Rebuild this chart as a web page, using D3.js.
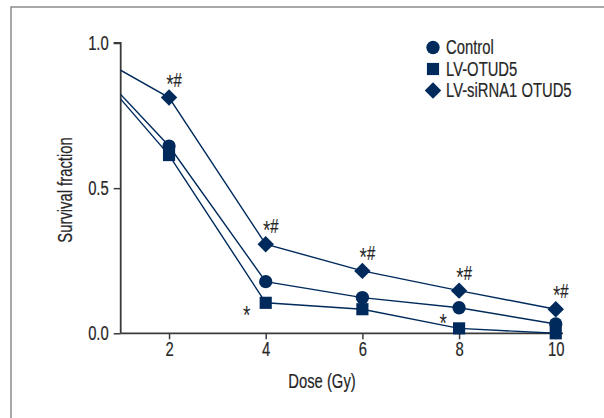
<!DOCTYPE html>
<html><head><meta charset="utf-8">
<script src="https://cdn.jsdelivr.net/npm/d3@7"></script>
<style>
body{margin:0;background:#fff;}
svg text{font-family:"Liberation Sans",Arial,sans-serif;fill:#262626;stroke:#262626;stroke-width:0.2px;}
</style></head>
<body><svg id="c" width="604" height="418"></svg>
<script>
const doses = [0, 2, 4, 6, 8, 10];
const seriesNames = ["Control", "LV-OTUD5", "LV-siRNA1 OTUD5"];
const controlValues = [1.0, 0.645, 0.178, 0.123, 0.088, 0.032];
const lvOtud5Values = [1.0, 0.614, 0.105, 0.083, 0.017, 0.0];
const siRnaValues   = [1.0, 0.812, 0.307, 0.215, 0.147, 0.083];
const xTicks = [2, 4, 6, 8, 10];
const yTicks = [0.0, 0.5, 1.0];
// significance marks: [seriesIndex, dose, label]
const sigMarks = [
  [2, 2, "*#"], [2, 4, "*#"], [2, 6, "*#"], [2, 8, "*#"], [2, 10, "*#"],
  [1, 4, "*"], [1, 8, "*"]
];

const SX = 0.76;           // horizontal condensing of text
const FS = 19.5;           // font size
const AS = 25;             // asterisk font size
const svg = d3.select("#c");
const color = "#002a5c";
const x = d3.scaleLinear().domain([1, 10.15]).range([120.7, 563]);
const y = d3.scaleLinear().domain([0, 1]).range([333.3, 43]);

function txt(g, tx, ty, s, anchor, rot) {
  return g.append("text")
    .attr("transform", `translate(${tx},${ty})` + (rot ? ` rotate(${rot})` : "") + ` scale(${SX},1)`)
    .attr("text-anchor", anchor || "start").attr("font-size", FS).text(s);
}

// frame
svg.append("rect").attr("x", 11).attr("y", 7).attr("width", 620).attr("height", 440)
  .attr("fill", "none").attr("stroke", "#707070").attr("stroke-width", 1.2);

svg.append("defs").append("clipPath").attr("id", "clip")
  .append("rect").attr("x", x(1)).attr("y", 0).attr("width", 500).attr("height", 400);

const seriesVals = [controlValues, lvOtud5Values, siRnaValues];
const symbolGen = [
  d3.symbol().type(d3.symbolCircle).size(140),
  d3.symbol().type(d3.symbolSquare).size(148),
  d3.symbol().type(d3.symbolSquare).size(135)
];
const rot = [0, 0, 45];

// axes
const yAxis = svg.append("g").attr("transform", `translate(${x(1)},0)`)
  .call(d3.axisLeft(y).tickValues(yTicks).tickFormat(d3.format(".1f")).tickSize(7).tickPadding(5));
const xAxis = svg.append("g").attr("transform", `translate(0,${y(0)})`)
  .call(d3.axisBottom(x).tickValues(xTicks).tickFormat(d3.format("d")).tickSize(6).tickPadding(3));
[yAxis, xAxis].forEach(g => {
  g.select(".domain").attr("stroke", "#3a3a3a").attr("stroke-width", 1.8);
  g.selectAll(".tick line").attr("stroke", "#3a3a3a").attr("stroke-width", 1.5);
  g.selectAll(".tick text").attr("font-size", FS).attr("fill", "#262626")
    .style("font-family", '"Liberation Sans",Arial,sans-serif')
    .each(function () {
      const t = d3.select(this);
      const tx = +(t.attr("x") || 0);
      t.attr("x", tx / SX).attr("transform", `scale(${SX},1)`);
    });
});
xAxis.select(".domain").attr("d", `M${x(1)},0H${x(10.15)}`);
yAxis.select(".domain").attr("d", `M-7,${y(1)}H0V${y(0)}`);

const line = d3.line().x((d, i) => x(doses[i])).y(d => y(d));
const plot = svg.append("g");
seriesVals.forEach((vals) => {
  plot.append("path").datum(vals).attr("d", line).attr("fill", "none")
    .attr("stroke", color).attr("stroke-width", 1.4).attr("clip-path", "url(#clip)");
});
seriesVals.forEach((vals, s) => {
  plot.selectAll(null).data(vals.slice(1)).enter().append("path")
    .attr("transform", (d, i) => `translate(${x(doses[i + 1])},${y(d)}) rotate(${rot[s]})`)
    .attr("d", symbolGen[s])
    .attr("fill", color);
});

// significance labels
sigMarks.forEach(([s, dose, lab]) => {
  const v = seriesVals[s][doses.indexOf(dose)];
  let t;
  if (lab === "*#") {
    t = txt(svg, x(dose) + 5, y(v) - 11, "", "middle");
    t.append("tspan").attr("font-size", AS).attr("dy", 6).attr("stroke-width", 0).text("*");
    t.append("tspan").attr("dy", -6).text("#");
  } else {
    const dy = dose === 4 ? 21 : 4;
    const dx = dose === 4 ? -19 : -16;
    t = txt(svg, x(dose) + dx, y(v) + dy, "", "middle");
    t.append("tspan").attr("font-size", AS).attr("stroke-width", 0).text("*");
  }
});

// axis titles
txt(svg, 322, 388, "Dose (Gy)", "middle");
txt(svg, 72, 190, "Survival fraction", "middle", -90);

// legend
const leg = svg.append("g");
seriesNames.forEach((name, i) => {
  const ly = 47.5 + i * 21.5;
  leg.append("path").attr("transform", `translate(433,${ly}) rotate(${rot[i]})`)
    .attr("d", symbolGen[i]).attr("fill", color);
  txt(leg, 446, ly + 6.7, name, "start");
});
</script></body></html>
